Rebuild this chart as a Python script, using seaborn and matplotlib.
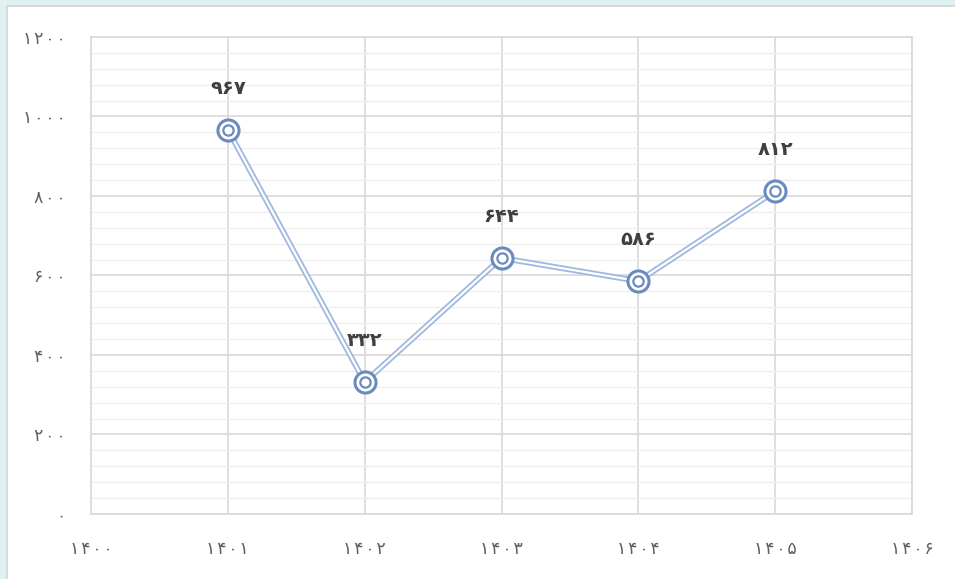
import pandas as pd
import matplotlib.pyplot as plt
import seaborn as sns
from matplotlib.patches import Rectangle

# --- data ---
years = [1401, 1402, 1403, 1404, 1405]
values = [967, 332, 644, 586, 812]
x_ticks = [1400, 1401, 1402, 1403, 1404, 1405, 1406]
y_ticks = [0, 200, 400, 600, 800, 1000, 1200]

FA = str.maketrans('0123456789', '۰۱۲۳۴۵۶۷۸۹')


def fa(n, sep=''):
    return sep.join(str(n).translate(FA))


df = pd.DataFrame({'year': years, 'value': values})

sns.set_style("white")
plt.rcParams['font.family'] = ['DejaVu Sans']

fig = plt.figure(figsize=(9.55, 5.79), dpi=100)
fig.patch.set_facecolor('#dff1f1')
# white card with light border behind the chart
fig.patches.append(Rectangle((0.0075, -0.01), 1.0, 1.0, transform=fig.transFigure,
                             facecolor='white', edgecolor='#d4d4d4', linewidth=1.2, zorder=-5))

ax = fig.add_axes([0.0953, 0.1123, 0.8597, 0.8238])
ax.set_zorder(2)
ax.set_facecolor('white')

# double line: wide blue then thin white on top
sns.lineplot(data=df, x='year', y='value', ax=ax, color='#9fb9de', linewidth=4.2, zorder=3)
ax.plot(df['year'], df['value'], color='white', linewidth=1.6, zorder=4)

# target-style markers
ax.scatter(df['year'], df['value'], s=230, facecolor='white', edgecolor='#6a8bbd', linewidth=2.2, zorder=5)
ax.scatter(df['year'], df['value'], s=55, facecolor='white', edgecolor='#6a8bbd', linewidth=1.6, zorder=6)

for x, y in zip(years, values):
    ax.annotate(fa(y), (x, y), xytext=(0, 23), textcoords='offset points',
                ha='center', va='bottom', fontsize=14, fontweight='bold', color='#404040')

ax.set_xlim(1400, 1406)
ax.set_ylim(0, 1200)
ax.set_xticks(x_ticks)
ax.set_xticklabels([fa(t, '\u200a') for t in x_ticks])
ax.set_yticks(y_ticks)
ax.set_yticklabels([fa(t, '\u200a') for t in y_ticks])
ax.set_yticks(range(0, 1201, 40), minor=True)

ax.grid(True, which='major', color='#d9d9d9', linewidth=1.2)
ax.grid(True, which='minor', axis='y', color='#efefef', linewidth=1.0)
ax.set_axisbelow(True)
for s in ax.spines.values():
    s.set_color('#d9d9d9')
    s.set_linewidth(1.2)

ax.tick_params(axis='both', which='both', length=0, labelsize=12.5, colors='#606060')
ax.tick_params(axis='x', pad=19)
ax.tick_params(axis='y', pad=18)
ax.set_xlabel('')
ax.set_ylabel('')

plt.savefig('out.png', dpi=100, facecolor=fig.get_facecolor())
